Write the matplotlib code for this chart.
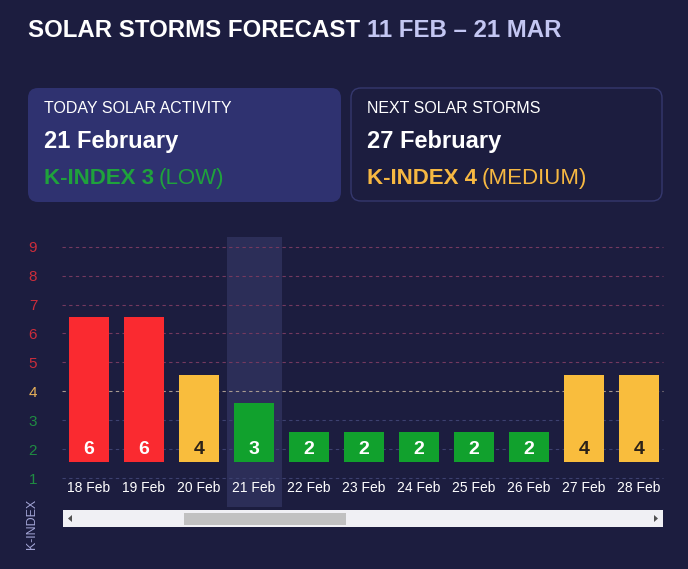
import matplotlib
matplotlib.use("Agg")
import matplotlib.pyplot as plt
from matplotlib.patches import FancyBboxPatch, Rectangle, Polygon

plt.rcParams['font.family'] = ['Liberation Sans', 'DejaVu Sans']

# ---------------- data ----------------
dates = ["18 Feb", "19 Feb", "20 Feb", "21 Feb", "22 Feb", "23 Feb",
         "24 Feb", "25 Feb", "26 Feb", "27 Feb", "28 Feb"]
kindex = [6, 6, 4, 3, 2, 2, 2, 2, 2, 4, 4]
today_index = 3
yticks = [1, 2, 3, 4, 5, 6, 7, 8, 9]

title_main = "SOLAR STORMS FORECAST"
title_range = "11 FEB \u2013 21 MAR"
card1 = ("TODAY SOLAR ACTIVITY", "21 February", "K-INDEX 3", "(LOW)")
card2 = ("NEXT SOLAR STORMS", "27 February", "K-INDEX 4", "(MEDIUM)")

BG = "#1c1d3f"
CARD = "#2f3270"
BAND = "#2c2e58"
RED = "#fa2a30"
YEL = "#f9bd3d"
GRN = "#11a12d"


def bar_color(v):
    if v >= 5:
        return RED
    if v == 4:
        return YEL
    return GRN


def tick_color(v):
    if v >= 5:
        return "#cc2d3b"
    if v == 4:
        return "#e9b25a"
    return "#1f8c42"


def grid_color(v):
    if v >= 5:
        return "#74395f"
    if v == 4:
        return "#a89a90"
    return "#3d4170"


W, H = 688, 569
fig = plt.figure(figsize=(W / 100, H / 100), dpi=100, facecolor=BG)

# overlay axes in pixel coordinates
ov = fig.add_axes([0, 0, 1, 1], zorder=0)
ov.set_xlim(0, W)
ov.set_ylim(H, 0)
ov.axis("off")
ov.patch.set_alpha(0)

# title
t1 = ov.text(28, 37, title_main, color="white", fontsize=17.25, fontweight="bold",
             va="baseline", ha="left")
ov.annotate(title_range, xy=(1, 0), xycoords=t1, xytext=(5, 0),
            textcoords="offset points", color="#c3c6f2", fontsize=17.25,
            fontweight="bold", va="bottom", ha="left")

# cards
ov.add_patch(FancyBboxPatch((28, 88), 313, 114, boxstyle="round,pad=0,rounding_size=10",
                            facecolor=CARD, edgecolor="none"))
ov.add_patch(FancyBboxPatch((351, 88), 311, 113, boxstyle="round,pad=0,rounding_size=10",
                            facecolor=BG, edgecolor="#35386e", linewidth=1))


def card_text(x, texts, col):
    ov.text(x, 113, texts[0], color="white", fontsize=11.5, va="baseline", ha="left")
    ov.text(x, 148, texts[1], color="white", fontsize=17, fontweight="bold",
            va="baseline", ha="left")
    k = ov.text(x, 184, texts[2], color=col, fontsize=16, fontweight="bold",
                va="baseline", ha="left")
    ov.annotate(texts[3], xy=(1, 0), xycoords=k, xytext=(3.5, 0),
                textcoords="offset points", color=col, fontsize=16,
                va="bottom", ha="left")


card_text(44, card1, "#1fa23c")
card_text(367, card2, "#f6b842")

# scrollbar
ov.add_patch(Rectangle((63, 510), 600, 17, facecolor="#f0f0f4", edgecolor="none"))
ov.add_patch(Rectangle((184, 512.5), 162, 12, facecolor="#c1c1c1", edgecolor="none"))
ov.add_patch(Polygon([[68, 518.5], [72, 515], [72, 522]], closed=True,
                     facecolor="#505050", edgecolor="none"))
ov.add_patch(Polygon([[658, 518.5], [654, 515], [654, 522]], closed=True,
                     facecolor="#505050", edgecolor="none"))

# K-INDEX label
ov.text(32, 524, "K-INDEX", rotation=90, color="#a3a5d6", fontsize=9,
        ha="center", va="center")

# ---------------- chart axes ----------------
left, right, top, bottom = 61.5, 666.5, 237, 507
ax = fig.add_axes([left / W, 1 - bottom / H, (right - left) / W, (bottom - top) / H],
                  zorder=1)
ax.patch.set_alpha(0)
n = len(dates)
ax.set_xlim(-0.5, n - 0.5)
ax.set_ylim(0, 9.336)
for s in ax.spines.values():
    s.set_visible(False)

ax.axvspan(today_index - 0.5, today_index + 0.5, color=BAND, zorder=0, lw=0)

for v in yticks:
    ax.hlines(v, -0.5, n - 0.56, colors=grid_color(v), linestyles=(0, (3, 3)),
              linewidth=0.8, zorder=1)

xs = list(range(n))
bottoms = [1.56] * n
heights = [v + 0.58 - 1.56 for v in kindex]
ax.bar(xs, heights, bottom=bottoms, width=0.73,
       color=[bar_color(v) for v in kindex], zorder=2)

for x, v in zip(xs, kindex):
    ax.text(x, 2, str(v), ha="center", va="center", fontsize=14, fontweight="bold",
            color="#2b2118" if v == 4 else "white", zorder=3)
    ax.text(x, 0.654, dates[x], ha="center", va="center", fontsize=10,
            color="white", zorder=3)

ax.set_xticks([])
ax.set_yticks(yticks)
ax.set_yticklabels([str(v) for v in yticks], fontsize=11)
for lbl, v in zip(ax.get_yticklabels(), yticks):
    lbl.set_color(tick_color(v))
ax.tick_params(axis="y", length=0, pad=17.5)

fig.savefig("out.png", dpi=100, facecolor=BG)
